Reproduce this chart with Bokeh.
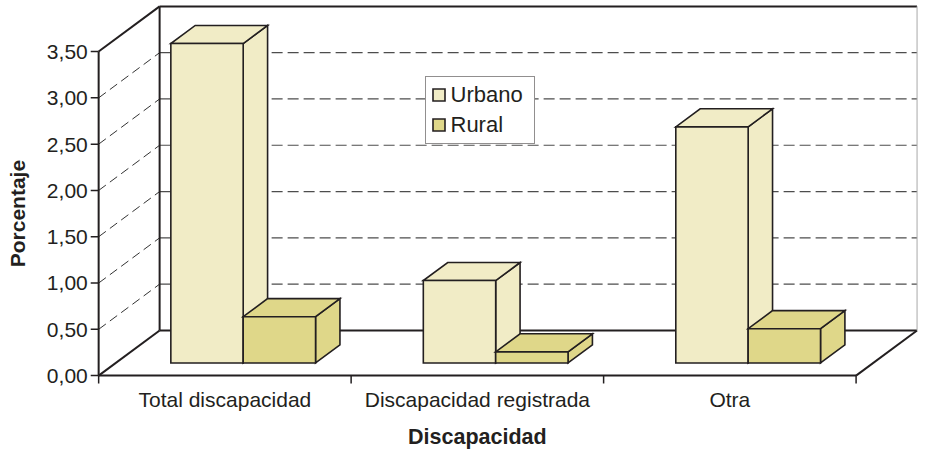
import math
from bokeh.plotting import figure
from bokeh.models import Range1d, Legend, LegendItem
from bokeh.core.properties import value
from bokeh.embed import file_html
from bokeh.resources import INLINE

# ---- data ----
categories = ["Total discapacidad", "Discapacidad registrada", "Otra"]
series_names = ["Urbano", "Rural"]
urbano = [3.45, 0.89, 2.55]
rural = [0.50, 0.12, 0.37]
y_ticks = [0.0, 0.5, 1.0, 1.5, 2.0, 2.5, 3.0, 3.5]
y_tick_labels = ["0,00", "0,50", "1,00", "1,50", "2,00", "2,50", "3,00", "3,50"]
y_label = "Porcentaje"
x_label = "Discapacidad"

# ---- styling / layout constants ----
URB = "#F1ECC6"
RUR = "#DFD789"
EDGE = "#231F20"
FONT = "Liberation Sans"
W, H = 919, 449
KX, KY = 0.9914, 0.982          # fit factor into the available page area
SX = 254.67 * KX                # px per category
SY = 94.29 * KY                 # px per value unit
X0PX = 99 * KX                  # px position of the front value axis
Y0PX = 382 * KY                 # px position of value 0 on the front plane
DX = 61.5 * KX / SX             # depth offset (category units)
DY = 46 * KY / SY               # depth offset (value units)
F1, F2 = 0.28, 0.68
BAR_OFF = 0.2183
BAR_W = 0.2866
TSHIFT = 0.31                   # text anchor correction (in em)

n = len(categories)
y_top = y_ticks[-1]


def px_x(d):
    return d * KX / SX


def px_y(d):
    return d * KY / SY


p = figure(width=W, height=H, output_backend="svg", toolbar_location=None,
           x_range=Range1d(-X0PX / SX, (W - X0PX) / SX),
           y_range=Range1d(-(H - Y0PX) / SY, Y0PX / SY),
           min_border=0, x_axis_location=None, y_axis_location=None)
p.outline_line_color = None
p.xgrid.visible = False
p.ygrid.visible = False
p.background_fill_color = "white"
p.border_fill_color = "white"

# back wall dashed grid lines
gv = [t for t in y_ticks if 0 < t < y_top]
p.segment(x0=[DX] * len(gv), y0=[t + DY for t in gv], x1=[n + DX] * len(gv),
          y1=[t + DY for t in gv], line_color="#4d4d4d", line_width=1.2, line_dash="11 5")
# side wall dashed diagonals
p.segment(x0=[0] * len(gv), y0=gv, x1=[DX] * len(gv), y1=[t + DY for t in gv],
          line_color="#333333", line_width=1, line_dash="9 5")

# solid structure lines (walls and floor)
sx0 = [0, 0, DX, DX, DX, n]
sy0 = [y_top, 0, DY, y_top + DY, DY, 0]
sx1 = [DX, DX, DX, n + DX, n + DX, n + DX]
sy1 = [y_top + DY, DY, y_top + DY, y_top + DY, DY, DY]
p.segment(x0=sx0, y0=sy0, x1=sx1, y1=sy1, line_color=EDGE, line_width=2)
p.segment(x0=[n + DX], y0=[DY], x1=[n + DX], y1=[y_top + DY], line_color="#a8a8a8", line_width=1)

# front axes
p.segment(x0=[0, 0], y0=[0, 0], x1=[0, n], y1=[y_top, 0], line_color=EDGE, line_width=2)
# value ticks
p.segment(x0=[-px_x(8)] * len(y_ticks), y0=y_ticks, x1=[0] * len(y_ticks), y1=y_ticks,
          line_color=EDGE, line_width=1.5)
# category boundary ticks
bounds = list(range(n + 1))
p.segment(x0=bounds, y0=[0] * len(bounds), x1=bounds, y1=[-px_y(8)] * len(bounds),
          line_color=EDGE, line_width=1.5)

# tick labels
p.text(x=[-px_x(11)] * len(y_ticks), y=[t - px_y(7) + TSHIFT * 21 / SY for t in y_ticks],
       text=y_tick_labels, text_align="right", text_baseline="alphabetic",
       text_font=value(FONT), text_font_size="21px", text_color=EDGE)
p.text(x=[i + 0.5 for i in range(n)], y=[-px_y(31) + TSHIFT * 21 / SY] * n, text=categories,
       text_align="center", text_baseline="alphabetic", text_font=value(FONT),
       text_font_size="21px", text_color=EDGE)
# axis titles
p.text(x=[n / 2], y=[-px_y(69.5) + TSHIFT * 21.5 / SY], text=[x_label], text_align="center",
       text_baseline="alphabetic", text_font=value(FONT), text_font_size="21.5px",
       text_font_style="bold", text_color=EDGE)
p.text(x=[-px_x(75.5) - TSHIFT * 21 / SX], y=[y_top / 2], text=[y_label], angle=math.pi / 2,
       text_align="center", text_baseline="alphabetic", text_font=value(FONT),
       text_font_size="21px", text_font_style="bold", text_color=EDGE)


def faces(values, s):
    xs, ys = [], []
    d = (F2 - F1) * DX
    e = (F2 - F1) * DY
    for i, v in enumerate(values):
        x0 = i + BAR_OFF + s * BAR_W + F1 * DX
        x1 = x0 + BAR_W
        y0 = F1 * DY
        y1 = y0 + v
        xs += [[x1, x1 + d, x1 + d, x1], [x0, x1, x1 + d, x0 + d], [x0, x1, x1, x0]]
        ys += [[y0, y0 + e, y1 + e, y1], [y1, y1, y1 + e, y1 + e], [y0, y0, y1, y1]]
    return xs, ys


renderers = []
for s, (vals, col) in enumerate([(urbano, URB), (rural, RUR)]):
    xs, ys = faces(vals, s)
    r = p.patches(xs=xs, ys=ys, fill_color=col, line_color=EDGE, line_width=1.6,
                  line_join="miter")
    renderers.append(r)

legend = Legend(items=[LegendItem(label=series_names[k], renderers=[renderers[k]]) for k in range(2)],
                location=(424.5, 305.5), orientation="vertical", padding=5, spacing=4, margin=0,
                glyph_width=15, glyph_height=15, label_standoff=5, label_width=78,
                label_text_font=FONT, label_text_font_size="22px", label_text_color=EDGE,
                border_line_color=EDGE, border_line_width=1,
                background_fill_color="white", background_fill_alpha=1)
p.add_layout(legend, "center")

open("out.html", "w").write(file_html(p, INLINE))
